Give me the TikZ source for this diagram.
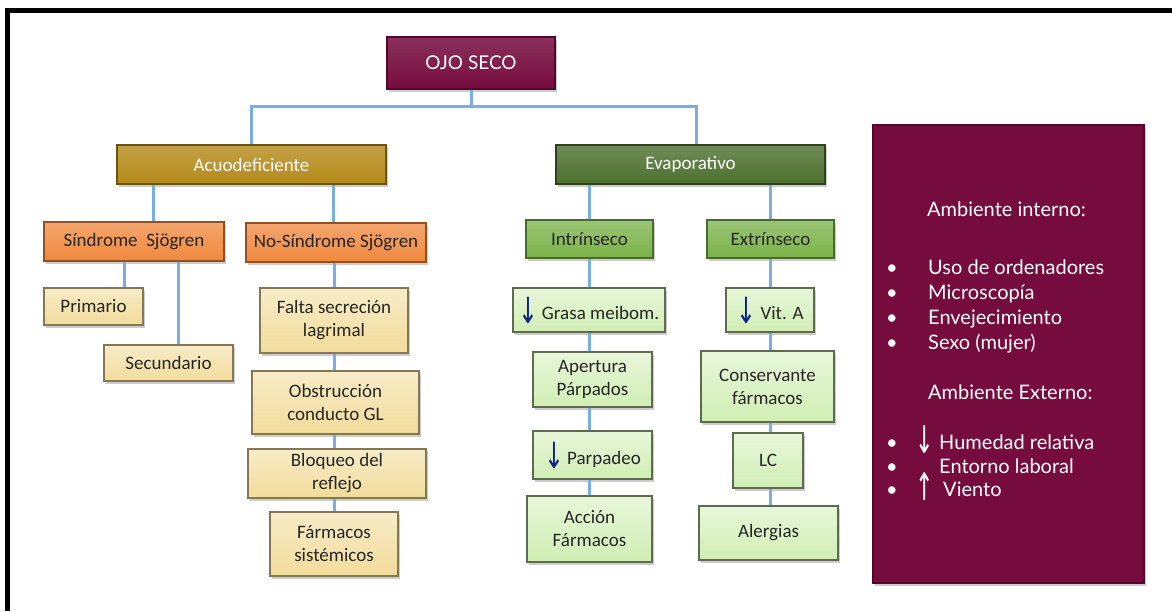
\documentclass[tikz,border=0pt]{standalone}
\usepackage{fontspec}
\setmainfont{Carlito}
\newfontfamily\gillfont{Lato}
\newfontfamily\arrowfont{DejaVu Sans}
\usetikzlibrary{shadows}

\definecolor{burgundy}{RGB}{118,12,62}
\definecolor{gold}{RGB}{180,138,24}
\definecolor{orangeb}{RGB}{240,136,62}
\definecolor{beige}{RGB}{242,220,155}
\definecolor{darkgreen}{RGB}{76,112,46}
\definecolor{midgreen}{RGB}{122,178,72}
\definecolor{lightgreen}{RGB}{208,238,180}
\definecolor{linkblue}{RGB}{122,172,232}
\definecolor{arrowblue}{RGB}{16,36,132}

\newcommand{\dn}{\raisebox{-4pt}{\scalebox{1.25}[1.9]{\arrowfont\color{arrowblue}↓}}}
\newcommand{\ambarrow}[1]{\raisebox{-4pt}{\scalebox{1.1}[1.9]{\arrowfont #1}}}

\tikzset{
  wh/.style 2 args={minimum width=#1pt, minimum height=#2pt},
  box/.style={rectangle, inner sep=0pt, align=center, text=black!85,
    font=\fontsize{19}{23}\selectfont, line width=1.2pt,
    drop shadow={shadow xshift=1.5pt, shadow yshift=-3pt, opacity=0.4}},
  topbox/.style={box, top color=burgundy!85!white, bottom color=burgundy, draw=burgundy!70!black,
    text=white, font=\gillfont\fontsize{19}{23}\selectfont},
  acuobox/.style={box, top color=gold!80!white, bottom color=gold, draw=gold!60!black, text=white},
  sindbox/.style={box, top color=orangeb!75!white, bottom color=orangeb, draw=orangeb!60!black},
  beigebox/.style={box, top color=beige!55!white, bottom color=beige, draw=beige!55!black},
  evapbox/.style={box, top color=darkgreen!80!white, bottom color=darkgreen, draw=darkgreen!60!black, text=white},
  midbox/.style={box, top color=midgreen!75!white, bottom color=midgreen, draw=midgreen!60!black},
  lightbox/.style={box, top color=lightgreen!50!white, bottom color=lightgreen, draw=lightgreen!45!black},
  ambbox/.style={rectangle, inner sep=0pt, fill=burgundy, draw=burgundy!70!black, line width=1.2pt,
    drop shadow={shadow xshift=1.5pt, shadow yshift=-3pt, opacity=0.4}},
  ambtxt/.style={inner sep=0pt, text=white, font=\gillfont\fontsize{20}{24}\selectfont},
  link/.style={draw=linkblue, line width=3pt},
}

\begin{document}
\begin{tikzpicture}[x=1pt, y=-1pt]
\useasboundingbox (0,0) rectangle (1172,611);
% frame
\draw[line width=5pt] (5,10) -- (1172,10);
\draw[line width=5pt] (7,8) -- (7,611);

% top levels
\node[topbox, wh={168}{52}] (ojo) at (471,63) {OJO SECO};
\node[acuobox, wh={269}{39}] (acuo) at (251.5,164.5) {Acuodeficiente};
\node[evapbox, wh={269}{39}] (evap) at (690.5,164.5) {Evaporativo};

% acuodeficiente branch
\node[sindbox, wh={180}{39}] (sind) at (134,241.5) {Síndrome\ \ Sjögren};
\node[sindbox, wh={180}{39}] (nosind) at (336,242.5) {No-Síndrome Sjögren};
\node[beigebox, wh={99}{37}] (prim) at (93.5,306.5) {Primario};
\node[beigebox, wh={129}{36}] (secu) at (168.5,363) {Secundario};
\node[beigebox, wh={148}{65}] (falta) at (334,320.5) {Falta secreción\\lagrimal};
\node[beigebox, wh={167}{63}] (obst) at (335.5,402.5) {Obstrucción\\conducto GL};
\node[beigebox, wh={178}{49}] (bloq) at (337,473.5) {Bloqueo del\\reflejo};
\node[beigebox, wh={128}{64}] (farm) at (334,544) {Fármacos\\sistémicos};

% evaporativo branch
\node[midbox, wh={127}{38}] (intr) at (589.5,239) {Intrínseco};
\node[midbox, wh={127}{38}] (extr) at (770.5,239) {Extrínseco};
\node[lightbox, wh={152}{44}] (grasa) at (589,310) {\dn\,Grasa meibom.};
\node[lightbox, wh={119}{55}] (aper) at (592.5,379.5) {Apertura\\Párpados};
\node[lightbox, wh={119}{48}] (parp) at (592.5,455) {\dn\,Parpadeo};
\node[lightbox, wh={125}{66}] (accion) at (589.5,529) {Acción\\Fármacos};
\node[lightbox, wh={88}{44}] (vita) at (770,310) {\dn\ Vit. A};
\node[lightbox, wh={133}{71}] (cons) at (767.5,386.5) {Conservante\\fármacos};
\node[lightbox, wh={70}{55}] (lc) at (768,460.5) {LC};
\node[lightbox, wh={139}{54}] (aler) at (768.5,533) {Alergias};

% ambiente
\node[ambbox, wh={271}{458}] (amb) at (1008.5,354) {};
\node[ambtxt, anchor=base west] (inttit) at (927,216.5) {Ambiente interno:};
\foreach \y/\t [count=\i] in {274.5/Uso de ordenadores, 299.5/Microscopía, 324.5/Envejecimiento, 349.5/Sexo (mujer)} {
  \node[ambtxt, anchor=base west] (int\i) at (928,\y) {\t};
  \node[ambtxt, anchor=base] (bi\i) at (892,\y) {•};
}
\node[ambtxt, anchor=base west] (exttit) at (928,399.5) {Ambiente Externo:};
\foreach \y [count=\i] in {449.5, 473.5, 496.5}
  \node[ambtxt, anchor=base] (be\i) at (892,\y) {•};
\node[ambtxt, anchor=base] (dnhum) at (925,449.5) {\ambarrow{↓}};
\node[ambtxt, anchor=base west] (ext1) at (939,449.5) {Humedad relativa};
\node[ambtxt, anchor=base west] (ext2) at (939,473.5) {Entorno laboral};
\node[ambtxt, anchor=base] (upvie) at (925,496.5) {\ambarrow{↑}};
\node[ambtxt, anchor=base west] (ext3) at (943,496.5) {Viento};

% connectors
\coordinate (bus) at (ojo.south |- 0,106);
\draw[link] (ojo.south) -- (bus);
\draw[link] (acuo.north) |- (bus) -| ([xshift=6pt]evap.north);
\draw[link] ([xshift=19pt]sind.north) -- ([xshift=19pt]sind.north |- acuo.south);
\draw[link] ([xshift=-3pt]nosind.north) -- ([xshift=-3pt]nosind.north |- acuo.south);
\draw[link] ([xshift=-10pt]sind.south) -- ([xshift=-10pt]sind.south |- prim.north);
\draw[link] ([xshift=10pt]secu.north) -- ([xshift=10pt]secu.north |- sind.south);
\draw[link] (intr.north) -- (intr.north |- evap.south);
\draw[link] (extr.north) -- (extr.north |- evap.south);
\foreach \a/\b in {nosind/falta, falta/obst, obst/bloq, bloq/farm}
  \draw[link] (\a.south -| falta.south) -- (\b.north -| falta.south);
\foreach \a/\b in {intr/grasa, grasa/aper, aper/parp, parp/accion}
  \draw[link] (\a.south -| intr.south) -- (\b.north -| intr.south);
\foreach \a/\b in {extr/vita, vita/cons, cons/lc, lc/aler}
  \draw[link] (\a.south -| extr.south) -- (\b.north -| extr.south);
\end{tikzpicture}
\end{document}
